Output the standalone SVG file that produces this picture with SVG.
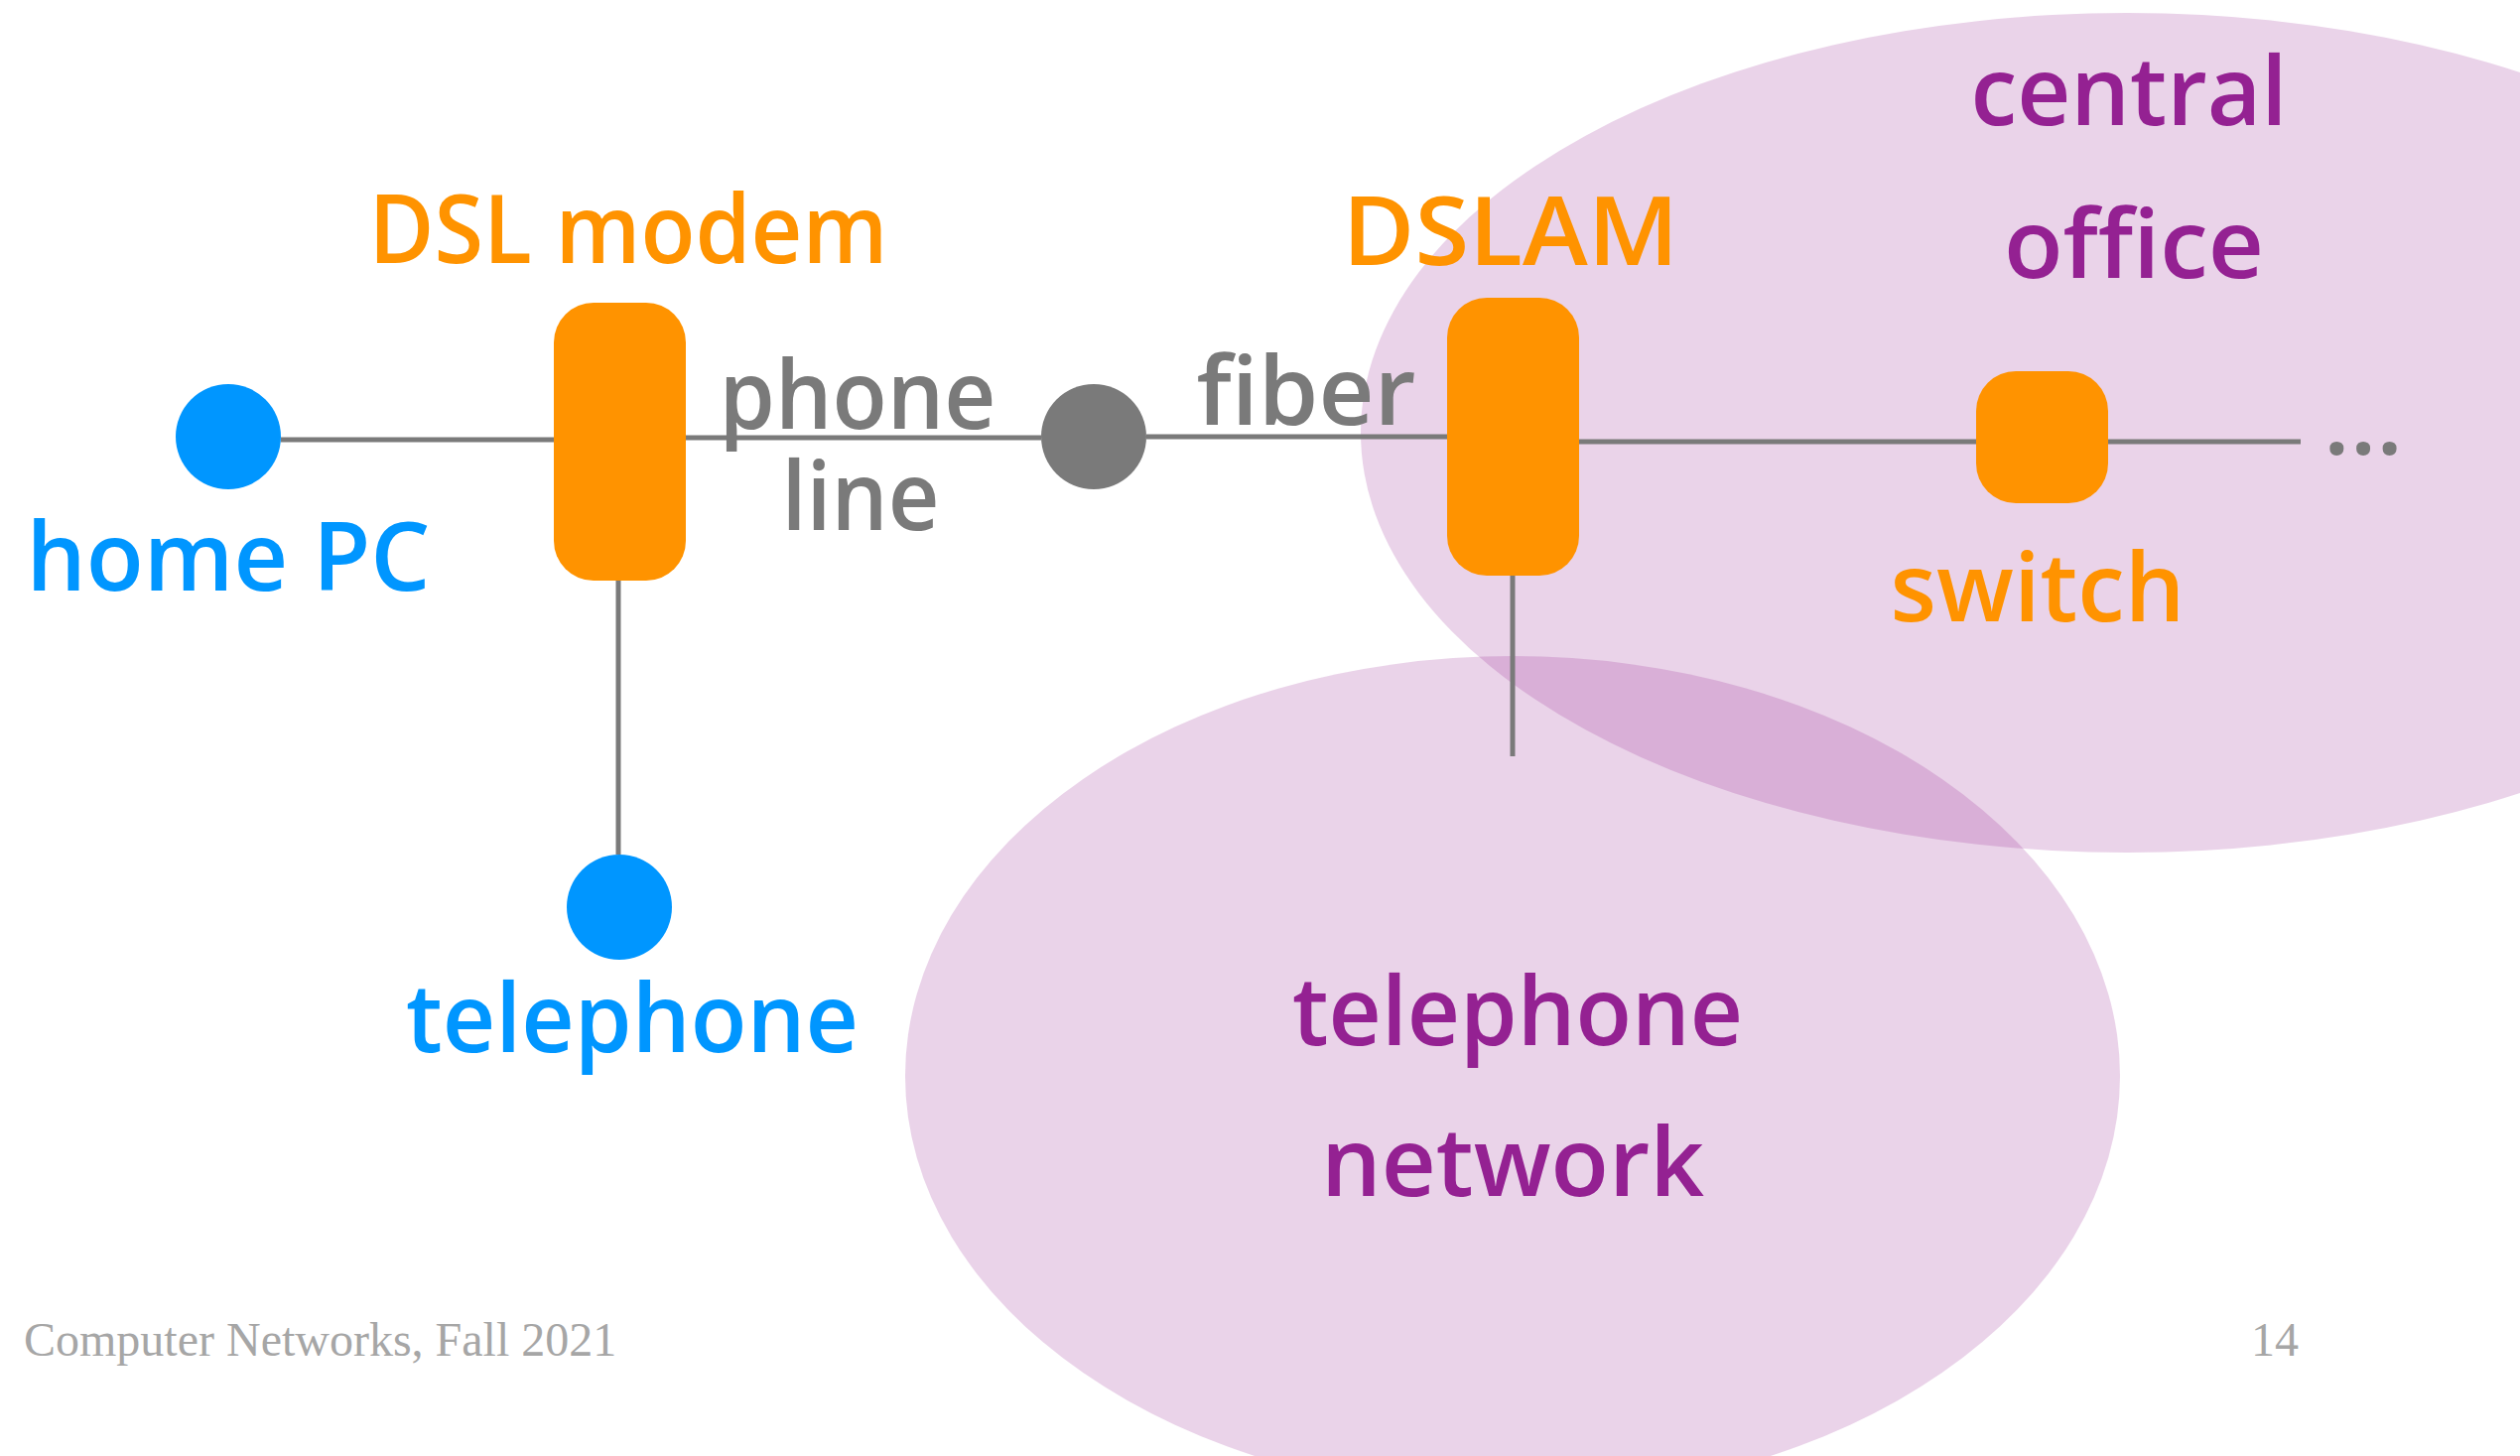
<svg xmlns="http://www.w3.org/2000/svg" width="2539" height="1467" viewBox="0 0 2539 1467">
  <style>
    .hand { font-family: "Comic Sans MS", "Open Sans", "DejaVu Sans", sans-serif; font-size: 96px; font-weight: 600; text-anchor: middle; }
    .orange { fill: #ff9300; }
    .blue { fill: #0096ff; }
    .gray { fill: #7a7a7a; }
    .plum { fill: #942192; }
    .region { fill: #942192; fill-opacity: 0.2; }
    .wire { stroke: #7a7a7a; stroke-width: 5; fill: none; }
    .box { fill: #ff9300; }
    .foot { font-family: "Liberation Serif", "Times New Roman", serif; font-size: 48px; fill: #a6a6a6; }
  </style>

  <rect width="2539" height="1467" fill="#ffffff"/>

  <!-- shaded domains -->
  <g id="central-office-area">
    <ellipse class="region" cx="2143" cy="436" rx="772" ry="423"/>
    <text class="hand plum" x="2145" y="126" textLength="319" lengthAdjust="spacingAndGlyphs">central</text>
    <text class="hand plum" x="2150" y="280" textLength="262" lengthAdjust="spacingAndGlyphs">office</text>
  </g>
  <g id="telephone-network">
    <ellipse class="region" cx="1524" cy="1084" rx="612" ry="423"/>
    <text class="hand plum" x="1529" y="1053" textLength="454" lengthAdjust="spacingAndGlyphs">telephone</text>
    <text class="hand plum" x="1524" y="1205" textLength="386" lengthAdjust="spacingAndGlyphs">network</text>
  </g>

  <!-- links -->
  <g id="connectors">
    <line class="wire" x1="283" y1="443" x2="558" y2="443"/>
    <line class="wire" x1="691" y1="441" x2="1049" y2="441"/>
    <line class="wire" x1="1155" y1="440" x2="1458" y2="440"/>
    <line class="wire" x1="1591" y1="445" x2="1991" y2="445"/>
    <line class="wire" x1="2124" y1="445" x2="2318" y2="445"/>
    <line class="wire" x1="623" y1="585" x2="623" y2="861"/>
    <line class="wire" x1="1524" y1="580" x2="1524" y2="762"/>
    <text class="hand gray" x="864" y="432" textLength="279" lengthAdjust="spacingAndGlyphs">phone</text>
    <text class="hand gray" x="867" y="534" textLength="159" lengthAdjust="spacingAndGlyphs">line</text>
    <text class="hand gray" x="1316" y="428" textLength="221" lengthAdjust="spacingAndGlyphs">fiber</text>
    <text class="hand gray" x="2381" y="458" font-size="140" font-weight="bold" textLength="80" lengthAdjust="spacingAndGlyphs">...</text>
  </g>

  <g id="home-pc">
    <circle cx="230" cy="440" r="53" class="blue"/>
    <text class="hand blue" x="230" y="595" textLength="407" lengthAdjust="spacingAndGlyphs">home PC</text>
  </g>

  <g id="dsl-modem">
    <rect class="box" x="558" y="305" width="133" height="280" rx="40" ry="40"/>
    <text class="hand orange" x="633" y="265" textLength="523" lengthAdjust="spacingAndGlyphs">DSL modem</text>
  </g>

  <g id="telephone">
    <circle cx="624" cy="914" r="53" class="blue"/>
    <text class="hand blue" x="637" y="1060" textLength="456" lengthAdjust="spacingAndGlyphs">telephone</text>
  </g>

  <g id="splice">
    <circle cx="1102" cy="440" r="53" class="gray"/>
  </g>

  <g id="dslam">
    <rect class="box" x="1458" y="300" width="133" height="280" rx="40" ry="40"/>
    <text class="hand orange" x="1522" y="267" textLength="339" lengthAdjust="spacingAndGlyphs">DSLAM</text>
  </g>

  <g id="switch">
    <rect class="box" x="1991" y="374" width="133" height="133" rx="40" ry="40"/>
    <text class="hand orange" x="2053" y="626" textLength="297" lengthAdjust="spacingAndGlyphs">switch</text>
  </g>

  <!-- footer -->
  <text class="foot" x="24" y="1366">Computer Networks, Fall 2021</text>
  <text class="foot" x="2316" y="1366" text-anchor="end">14</text>
</svg>
